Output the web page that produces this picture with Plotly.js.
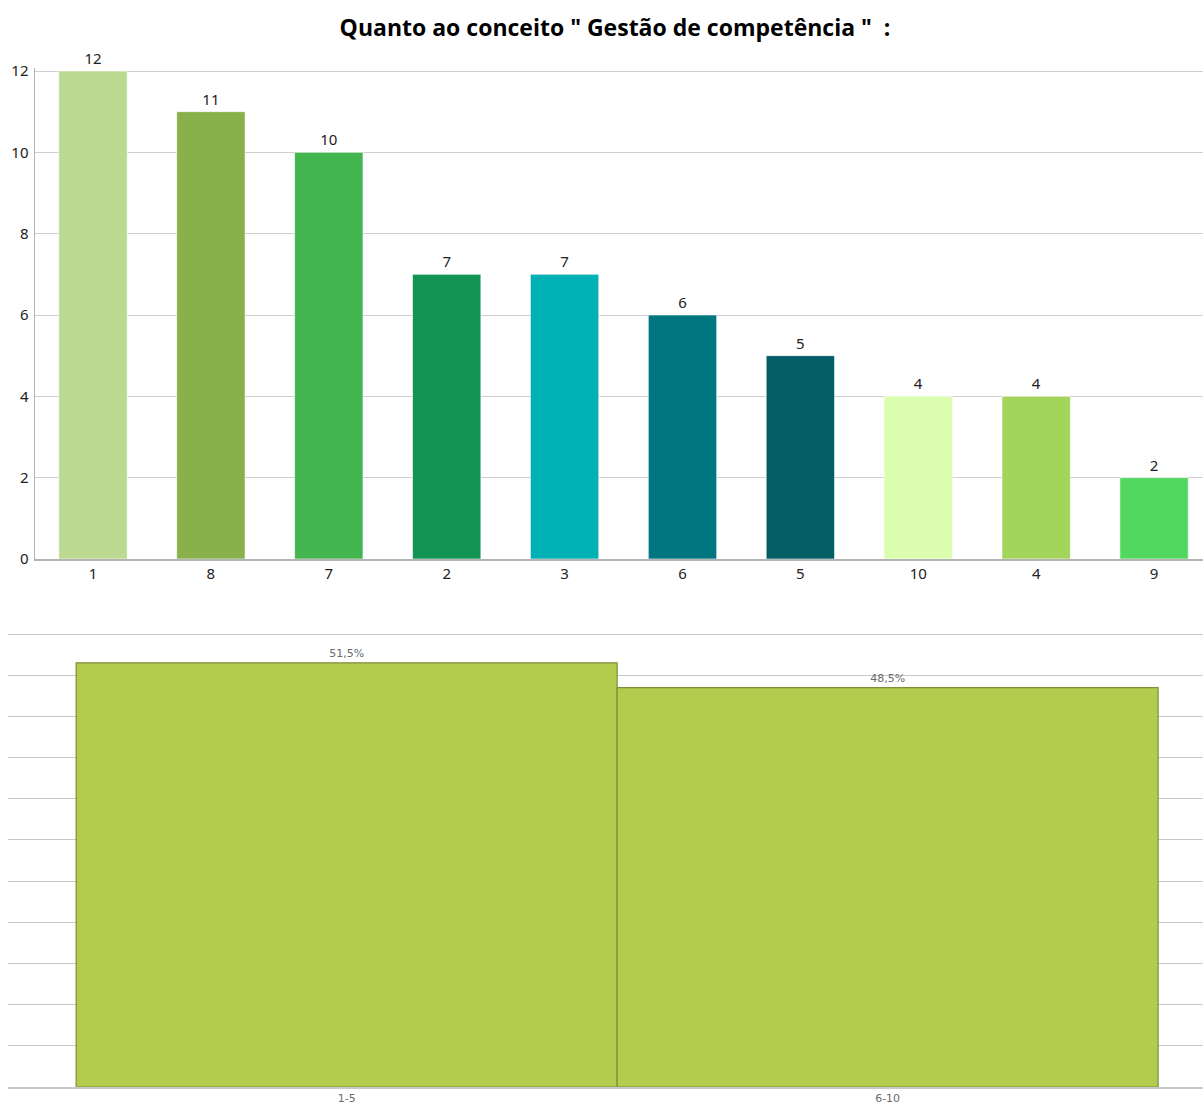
<!DOCTYPE html>
<html>
<head>
<meta charset="utf-8">
<script src="https://cdn.plot.ly/plotly-3.0.1.min.js"></script>
<style>
  html, body { margin: 0; padding: 0; background: #ffffff; }
  #chart { width: 1203px; height: 1108px; }
</style>
</head>
<body>
<div id="chart"></div>
<script>
// Answers per score, ordered by frequency
const scoreLabels = ['1', '8', '7', '2', '3', '6', '5', '10', '4', '9'];
const scoreCounts = [12, 11, 10, 7, 7, 6, 5, 4, 4, 2];
const scoreColors = ['#BCD991', '#88B04B', '#43B54F', '#129552', '#00B1B6',
                     '#007681', '#035E66', '#DAFDAE', '#A3D55A', '#53D85F'];

// Share of answers per score range (%)
const rangeLabels = ['1-5', '6-10'];
const rangeShares = [51.5, 48.5];

const W = 1203, H = 1108;
const px = v => v / W;
const py = v => (H - v) / H;

const titleText = 'Quanto ao conceito " Gestão de competência "\u00a0\u00a0:';

const topBars = {
  type: 'bar',
  x: scoreLabels,
  y: scoreCounts,
  xaxis: 'x', yaxis: 'y',
  width: 0.58,
  marker: { color: scoreColors, line: { color: 'rgba(255,255,255,0.6)', width: 1 } },
  text: scoreCounts.map(String),
  textposition: 'outside',
  cliponaxis: false,
  textfont: { family: 'Noto Sans, sans-serif', size: 15, color: '#222222' },
  hoverinfo: 'x+y'
};

const bottomBars = {
  type: 'bar',
  x: rangeLabels,
  y: rangeShares,
  xaxis: 'x2', yaxis: 'y2',
  width: 1,
  marker: { color: '#B3CC4E', line: { color: '#7D8F3A', width: 1.2 } },
  texttemplate: '%{y:.1f}%',
  textposition: 'outside',
  cliponaxis: false,
  textfont: { family: 'DejaVu Sans, sans-serif', size: 11, color: '#6a6a6a' },
  hoverinfo: 'x+y'
};

const layout = {
  width: W, height: H,
  margin: { l: 0, r: 0, t: 0, b: 0 },
  paper_bgcolor: '#ffffff',
  plot_bgcolor: '#ffffff',
  showlegend: false,
  separators: ',.',
  title: {
    text: titleText,
    x: 615 / W, xanchor: 'center',
    y: py(28), yanchor: 'middle',
    font: { family: 'Open Sans, sans-serif', size: 23, color: '#000000', weight: 'bold' }
  },
  xaxis: {
    domain: [px(35), 1],
    range: [-0.492, 9.415],
    type: 'category',
    showgrid: false,
    showline: true, linecolor: '#b4b4b4', linewidth: 1.5,
    ticks: '',
    tickfont: { family: 'Noto Sans, sans-serif', size: 15, color: '#222222' },
    fixedrange: true
  },
  yaxis: {
    // a little headroom so the gridline at 12 is drawn
    domain: [py(559), py(68)],
    range: [0, 12 * (559 - 68) / (559 - 71)],
    tickvals: [0, 2, 4, 6, 8, 10, 12],
    showgrid: true, gridcolor: '#cfcfcf', gridwidth: 1,
    zeroline: false,
    showline: true, linecolor: '#b4b4b4', linewidth: 1.5,
    ticks: '', ticklabelstandoff: 2,
    tickfont: { family: 'Noto Sans, sans-serif', size: 15, color: '#222222' },
    fixedrange: true
  },
  xaxis2: {
    anchor: 'y2',
    domain: [px(8), 1],
    range: [-0.626, 1.583],
    type: 'category',
    showgrid: false,
    showline: true, linecolor: '#c8c8c8', linewidth: 1.5,
    ticks: '',
    tickfont: { family: 'DejaVu Sans, sans-serif', size: 11, color: '#6a6a6a' },
    fixedrange: true
  },
  yaxis2: {
    anchor: 'x2',
    // a little headroom so the gridline at 55 is drawn
    domain: [py(1087), py(632)],
    range: [0, 55 * (1087 - 632) / (1087 - 634)],
    tickvals: [5, 10, 15, 20, 25, 30, 35, 40, 45, 50, 55],
    showgrid: true, gridcolor: '#c8c8c8', gridwidth: 1,
    zeroline: false,
    showline: false,
    showticklabels: false,
    ticks: '',
    fixedrange: true
  },
  bargap: 0
};

Plotly.newPlot('chart', [topBars, bottomBars], layout, { displayModeBar: false, staticPlot: true });
</script>
</body>
</html>
